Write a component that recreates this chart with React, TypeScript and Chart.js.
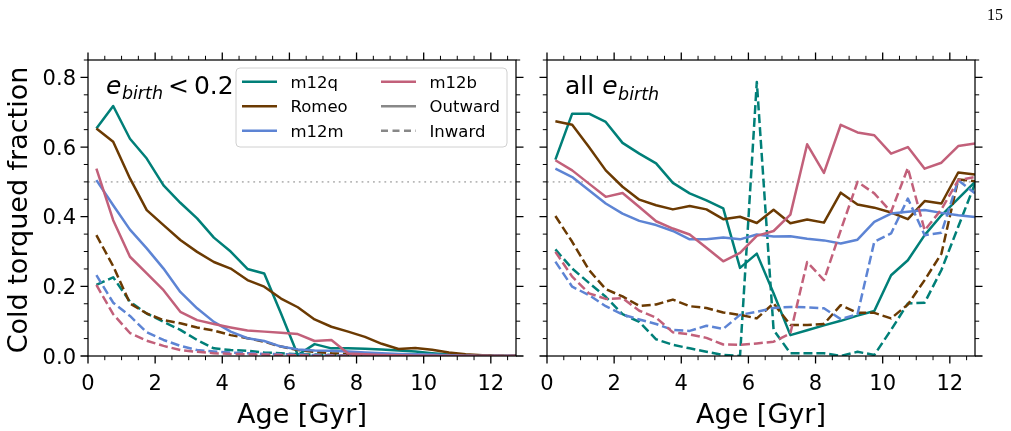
import { useEffect, useRef } from "react";
import { Chart, registerables } from "chart.js";

Chart.register(...registerables);

// Stellar age bins [Gyr]
const AGES = [
  0.25, 0.75, 1.25, 1.75, 2.25, 2.75, 3.25, 3.75, 4.25, 4.75, 5.25, 5.75, 6.25,
  6.75, 7.25, 7.75, 8.25, 8.75, 9.25, 9.75, 10.25, 10.75, 11.25, 11.75, 12.25, 12.75,
];

const X_MAX = 12.75;
const Y_MAX = 0.85;
const X_TICKS = [0, 2, 4, 6, 8, 10, 12];
const X_TICK_LABELS = ["0", "2", "4", "6", "8", "10", "12"];
const Y_TICKS = [0, 0.2, 0.4, 0.6, 0.8];
const Y_TICK_LABELS = ["0.0", "0.2", "0.4", "0.6", "0.8"];
const REFERENCE_FRACTION = 0.5;

const SIMS = ["m12q", "Romeo", "m12m", "m12b"];
const SIM_COLORS = ["#007f78", "#6b3a02", "#5d84d4", "#c2607a"];

// e_birth < 0.2, outward-torqued
const LOW_OUT_M12Q = [0.653, 0.718, 0.624, 0.567, 0.49, 0.44, 0.395, 0.34, 0.3, 0.25, 0.237, 0.122, 0.003, 0.034, 0.022, 0.022, 0.021, 0.019, 0.016, 0.013, 0.008, 0.004, 0.002, 0.001, 0, 0];
const LOW_OUT_ROMEO = [0.653, 0.615, 0.51, 0.419, 0.376, 0.333, 0.299, 0.27, 0.251, 0.218, 0.199, 0.165, 0.14, 0.105, 0.084, 0.07, 0.055, 0.035, 0.02, 0.023, 0.018, 0.01, 0.005, 0.002, 0, 0];
const LOW_OUT_M12M = [0.505, 0.433, 0.363, 0.309, 0.251, 0.184, 0.137, 0.098, 0.07, 0.051, 0.043, 0.027, 0.019, 0.016, 0.015, 0.013, 0.01, 0.008, 0.006, 0.005, 0.004, 0.002, 0.001, 0, 0, 0];
const LOW_OUT_M12B = [0.538, 0.39, 0.285, 0.237, 0.189, 0.127, 0.103, 0.092, 0.082, 0.073, 0.07, 0.067, 0.063, 0.043, 0.046, 0.007, 0.005, 0.003, 0.002, 0.001, 0.001, 0, 0, 0, 0, 0];
// e_birth < 0.2, inward-torqued
const LOW_IN_M12Q = [0.204, 0.226, 0.156, 0.122, 0.098, 0.075, 0.046, 0.022, 0.017, 0.015, 0.01, 0.008, 0.005, 0.004, 0.003, 0.002, 0.001, 0.001, 0, 0, 0, 0, 0, 0, 0, 0];
const LOW_IN_ROMEO = [0.347, 0.258, 0.151, 0.122, 0.103, 0.094, 0.082, 0.073, 0.06, 0.051, 0.041, 0.027, 0.017, 0.012, 0.008, 0.006, 0.004, 0.003, 0.002, 0.001, 0, 0, 0, 0, 0, 0];
const LOW_IN_M12M = [0.232, 0.153, 0.115, 0.068, 0.046, 0.029, 0.017, 0.013, 0.01, 0.008, 0.006, 0.005, 0.004, 0.003, 0.002, 0.001, 0.001, 0, 0, 0, 0, 0, 0, 0, 0, 0];
const LOW_IN_M12B = [0.204, 0.12, 0.066, 0.044, 0.029, 0.017, 0.012, 0.008, 0.006, 0.005, 0.004, 0.003, 0.002, 0.001, 0.001, 0, 0, 0, 0, 0, 0, 0, 0, 0, 0, 0];

// all e_birth, outward-torqued
const ALL_OUT_M12Q = [0.564, 0.696, 0.696, 0.672, 0.612, 0.581, 0.553, 0.497, 0.467, 0.447, 0.424, 0.253, 0.294, 0.18, 0.06, 0.074, 0.088, 0.101, 0.116, 0.129, 0.232, 0.275, 0.347, 0.404, 0.452, 0.5];
const ALL_OUT_ROMEO = [0.674, 0.664, 0.6, 0.533, 0.486, 0.449, 0.433, 0.421, 0.431, 0.421, 0.393, 0.4, 0.382, 0.42, 0.381, 0.392, 0.383, 0.469, 0.435, 0.426, 0.412, 0.393, 0.445, 0.438, 0.527, 0.521];
const ALL_OUT_M12M = [0.538, 0.514, 0.476, 0.438, 0.409, 0.388, 0.376, 0.359, 0.335, 0.335, 0.34, 0.335, 0.349, 0.343, 0.344, 0.337, 0.332, 0.323, 0.334, 0.385, 0.409, 0.414, 0.419, 0.411, 0.404, 0.399];
const ALL_OUT_M12B = [0.562, 0.533, 0.495, 0.457, 0.468, 0.428, 0.387, 0.366, 0.349, 0.311, 0.272, 0.296, 0.345, 0.359, 0.406, 0.608, 0.526, 0.664, 0.642, 0.634, 0.581, 0.6, 0.538, 0.555, 0.603, 0.61];
// all e_birth, inward-torqued
const ALL_IN_M12Q = [0.306, 0.251, 0.21, 0.17, 0.12, 0.098, 0.048, 0.032, 0.022, 0.012, 0.003, 0, 0.787, 0.075, 0.008, 0.008, 0.008, 0, 0.012, 0.003, 0.075, 0.151, 0.153, 0.247, 0.371, 0.495];
const ALL_IN_ROMEO = [0.402, 0.328, 0.247, 0.192, 0.171, 0.144, 0.148, 0.162, 0.143, 0.138, 0.125, 0.118, 0.108, 0.151, 0.089, 0.089, 0.092, 0.146, 0.124, 0.124, 0.108, 0.148, 0.218, 0.294, 0.507, 0.502];
const ALL_IN_M12M = [0.271, 0.199, 0.175, 0.143, 0.119, 0.105, 0.092, 0.075, 0.072, 0.087, 0.078, 0.118, 0.127, 0.138, 0.141, 0.14, 0.137, 0.106, 0.12, 0.328, 0.352, 0.452, 0.347, 0.354, 0.505, 0.467];
const ALL_IN_M12B = [0.299, 0.228, 0.18, 0.164, 0.166, 0.13, 0.11, 0.068, 0.062, 0.052, 0.033, 0.032, 0.036, 0.041, 0.065, 0.27, 0.218, 0.361, 0.5, 0.467, 0.414, 0.54, 0.361, 0.421, 0.505, 0.514];

const LOW_OUT = [LOW_OUT_M12Q, LOW_OUT_ROMEO, LOW_OUT_M12M, LOW_OUT_M12B];
const LOW_IN = [LOW_IN_M12Q, LOW_IN_ROMEO, LOW_IN_M12M, LOW_IN_M12B];
const ALL_OUT = [ALL_OUT_M12Q, ALL_OUT_ROMEO, ALL_OUT_M12M, ALL_OUT_M12B];
const ALL_IN = [ALL_IN_M12Q, ALL_IN_ROMEO, ALL_IN_M12M, ALL_IN_M12B];

const FONT = "'DejaVu Sans', 'Liberation Sans', sans-serif";
const LINE_W = 2.5;
const DASH = [9, 3.9];

function buildDatasets(outward: number[][], inward: number[][]) {
  const sets: any[] = [];
  SIMS.forEach((sim, i) => {
    sets.push({
      label: `${sim} Outward`,
      data: AGES.map((a, j) => ({ x: a, y: outward[i][j] })),
      borderColor: SIM_COLORS[i],
      borderWidth: LINE_W,
      borderJoinStyle: "round",
      borderCapStyle: "butt",
    });
    sets.push({
      label: `${sim} Inward`,
      data: AGES.map((a, j) => ({ x: a, y: inward[i][j] })),
      borderColor: SIM_COLORS[i],
      borderWidth: LINE_W,
      borderDash: DASH,
      borderJoinStyle: "round",
      borderCapStyle: "butt",
    });
  });
  // later series are painted on top
  return sets.map((s, k) => ({ ...s, order: sets.length - k }));
}

type PanelOpts = {
  yLabels: boolean;
  legend: boolean;
  note: "low" | "all";
  pageNumber?: string;
};

function drawEBirth(ctx: CanvasRenderingContext2D, x: number, base: number) {
  ctx.font = `oblique 25px ${FONT}`;
  ctx.fillText("e", x, base);
  const ew = ctx.measureText("e").width;
  ctx.font = `oblique 17.5px ${FONT}`;
  ctx.fillText("birth", x + ew + 0.5, base + 5.5);
  return x + ew + 0.5 + ctx.measureText("birth").width;
}

function panelPlugin(opts: PanelOpts) {
  return {
    id: "panelDecor",
    beforeDatasetsDraw(chart: any) {
      const { ctx, chartArea: a, scales } = chart;
      const y = scales.y.getPixelForValue(REFERENCE_FRACTION);
      ctx.save();
      ctx.strokeStyle = "#b8b8b8";
      ctx.lineWidth = 1.8;
      ctx.setLineDash([1.8, 3.9]);
      ctx.beginPath();
      ctx.moveTo(a.left, y);
      ctx.lineTo(a.right, y);
      ctx.stroke();
      ctx.restore();
    },
    afterDraw(chart: any) {
      const { ctx, chartArea: a, scales } = chart;
      const xs = scales.x;
      const ys = scales.y;
      ctx.save();
      ctx.fillStyle = "#000";
      ctx.strokeStyle = "#000";

      // frame
      ctx.lineWidth = 1.25;
      ctx.strokeRect(a.left, a.top, a.right - a.left, a.bottom - a.top);

      // outward ticks on all four sides
      for (let k = 0; k * 0.5 <= X_MAX + 1e-9; k++) {
        const v = k * 0.5;
        const major = X_TICKS.some((t) => Math.abs(t - v) < 1e-9);
        const len = major ? 7.5 : 4.2;
        ctx.lineWidth = major ? 1.3 : 1;
        const px = xs.getPixelForValue(v);
        ctx.beginPath();
        ctx.moveTo(px, a.bottom);
        ctx.lineTo(px, a.bottom + len);
        ctx.moveTo(px, a.top);
        ctx.lineTo(px, a.top - len);
        ctx.stroke();
      }
      for (let k = 0; k * 0.05 <= Y_MAX + 1e-9; k++) {
        const v = k * 0.05;
        const major = Y_TICKS.some((t) => Math.abs(t - v) < 1e-9);
        const len = major ? 7.5 : 4.2;
        ctx.lineWidth = major ? 1.3 : 1;
        const py = ys.getPixelForValue(v);
        ctx.beginPath();
        ctx.moveTo(a.left, py);
        ctx.lineTo(a.left - len, py);
        ctx.moveTo(a.right, py);
        ctx.lineTo(a.right + len, py);
        ctx.stroke();
      }

      // tick labels
      ctx.font = `21px ${FONT}`;
      ctx.textBaseline = "alphabetic";
      ctx.textAlign = "center";
      X_TICKS.forEach((t, i) => {
        ctx.fillText(X_TICK_LABELS[i], xs.getPixelForValue(t), a.bottom + 33.5);
      });
      if (opts.yLabels) {
        ctx.textAlign = "right";
        Y_TICKS.forEach((t, i) => {
          ctx.fillText(Y_TICK_LABELS[i], a.left - 12, ys.getPixelForValue(t) + 7.6);
        });
      }

      // axis titles
      ctx.font = `27px ${FONT}`;
      ctx.textAlign = "center";
      ctx.fillText("Age [Gyr]", (a.left + a.right) / 2, a.bottom + 67);
      if (opts.yLabels) {
        ctx.save();
        ctx.translate(a.left - 61, (a.top + a.bottom) / 2 + 2);
        ctx.rotate(-Math.PI / 2);
        ctx.fillText("Cold torqued fraction", 0, 0);
        ctx.restore();
      }

      // panel note
      ctx.textAlign = "left";
      if (opts.note === "low") {
        const end = drawEBirth(ctx, a.left + 18, a.top + 33.5);
        ctx.font = `25px ${FONT}`;
        ctx.fillText("<", end + 5, a.top + 33.5);
        const lw = ctx.measureText("<").width;
        ctx.fillText("0.2", end + 5 + lw + 5, a.top + 33.5);
      } else {
        ctx.font = `25px ${FONT}`;
        ctx.fillText("all ", a.left + 18, a.top + 34);
        const w = ctx.measureText("all ").width;
        drawEBirth(ctx, a.left + 18 + w, a.top + 34);
      }

      // legend
      if (opts.legend) {
        const bx = a.left + 148;
        const by = a.top + 8;
        const bw = 271;
        const bh = 79;
        ctx.save();
        ctx.fillStyle = "rgba(255,255,255,0.85)";
        ctx.strokeStyle = "#d0d0d0";
        ctx.lineWidth = 1;
        ctx.beginPath();
        ctx.roundRect(bx, by, bw, bh, 4);
        ctx.fill();
        ctx.stroke();
        ctx.restore();

        const entries = [
          { label: SIMS[0], color: SIM_COLORS[0], dashed: false },
          { label: SIMS[1], color: SIM_COLORS[1], dashed: false },
          { label: SIMS[2], color: SIM_COLORS[2], dashed: false },
          { label: SIMS[3], color: SIM_COLORS[3], dashed: false },
          { label: "Outward", color: "#888888", dashed: false },
          { label: "Inward", color: "#888888", dashed: true },
        ];
        ctx.font = `16.5px ${FONT}`;
        ctx.textAlign = "left";
        entries.forEach((e, i) => {
          const col = Math.floor(i / 3);
          const row = i % 3;
          const lx = bx + 6 + col * 139;
          const cy = by + 13.7 + row * 24.5;
          ctx.save();
          ctx.strokeStyle = e.color;
          ctx.lineWidth = LINE_W;
          ctx.setLineDash(e.dashed ? [7, 4.5] : []);
          ctx.beginPath();
          ctx.moveTo(lx, cy);
          ctx.lineTo(lx + 35, cy);
          ctx.stroke();
          ctx.restore();
          ctx.fillStyle = "#000";
          ctx.fillText(e.label, lx + 48.5, cy + 6);
        });
      }

      if (opts.pageNumber) {
        ctx.font = `16px 'Liberation Serif', 'Times New Roman', serif`;
        ctx.textAlign = "right";
        ctx.fillText(opts.pageNumber, chart.width - 8, 20);
      }
      ctx.restore();
    },
  };
}

function makeConfig(
  outward: number[][],
  inward: number[][],
  yAxisWidth: number,
  padRight: number,
  opts: PanelOpts
): any {
  return {
    type: "line",
    data: { datasets: buildDatasets(outward, inward) },
    options: {
      responsive: false,
      animation: false,
      devicePixelRatio: 1,
      layout: { padding: { left: 0, right: padRight, top: 60, bottom: 0 } },
      plugins: { legend: { display: false }, tooltip: { enabled: false } },
      elements: { point: { radius: 0, hoverRadius: 0 }, line: { tension: 0 } },
      scales: {
        x: {
          type: "linear",
          min: 0,
          max: X_MAX,
          grid: { display: false, drawTicks: false },
          border: { display: false },
          ticks: { display: false },
          afterFit: (s: any) => {
            s.height = 75;
          },
        },
        y: {
          type: "linear",
          min: 0,
          max: Y_MAX,
          grid: { display: false, drawTicks: false },
          border: { display: false },
          ticks: { display: false },
          afterFit: (s: any) => {
            s.width = yAxisWidth;
          },
        },
      },
    },
    plugins: [panelPlugin(opts)],
  };
}

export default function App() {
  const leftRef = useRef<HTMLCanvasElement>(null);
  const rightRef = useRef<HTMLCanvasElement>(null);

  useEffect(() => {
    const left = new Chart(
      leftRef.current!,
      makeConfig(LOW_OUT, LOW_IN, 88, 14, { yLabels: true, legend: true, note: "low" })
    );
    const right = new Chart(
      rightRef.current!,
      makeConfig(ALL_OUT, ALL_IN, 17, 36, {
        yLabels: false,
        legend: false,
        note: "all",
        pageNumber: "15",
      })
    );
    return () => {
      left.destroy();
      right.destroy();
    };
  }, []);

  return (
    <div
      style={{
        position: "absolute",
        left: 0,
        top: 0,
        width: 1011,
        height: 431,
        background: "#ffffff",
        overflow: "hidden",
      }}
    >
      <canvas
        ref={leftRef}
        width={530}
        height={431}
        style={{ position: "absolute", left: 0, top: 0, width: 530, height: 431 }}
      />
      <canvas
        ref={rightRef}
        width={481}
        height={431}
        style={{ position: "absolute", left: 530, top: 0, width: 481, height: 431 }}
      />
    </div>
  );
}
